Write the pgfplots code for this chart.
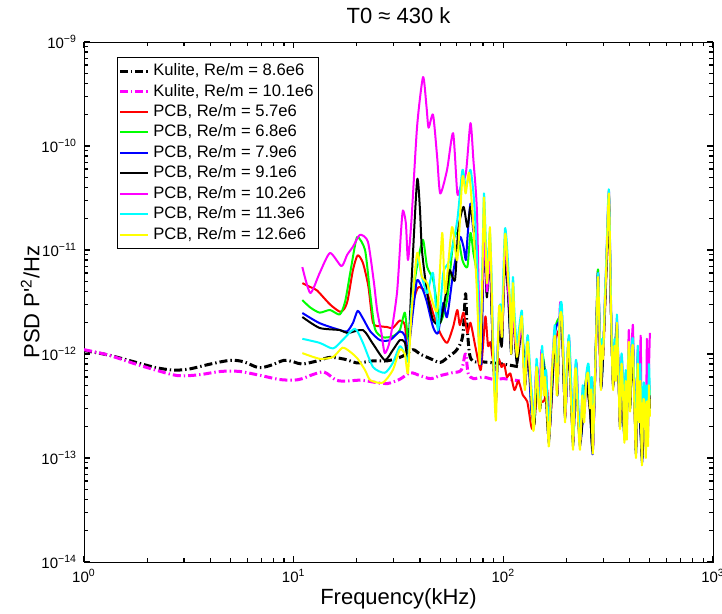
\documentclass[border=0pt]{standalone}
\usepackage{pgfplots}
\pgfplotsset{compat=1.18}
\usepackage{fontspec}
\setmainfont{Liberation Sans}
\definecolor{mred}{rgb}{1,0,0}
\definecolor{mgreen}{rgb}{0,1,0}
\definecolor{mblue}{rgb}{0,0,1}
\definecolor{mmag}{rgb}{1,0,1}
\definecolor{mcyan}{rgb}{0,1,1}
\definecolor{myellow}{rgb}{1,1,0}
\begin{document}
\begin{tikzpicture}
\begin{axis}[
  at={(0,0)}, anchor=south west,
  scale only axis, width=314.5pt, height=260pt,
  xmode=log, ymode=log,
  xmin=1, xmax=1000, ymin=1e-14, ymax=1e-9,
  xtick={1,10,100,1000},
  xticklabels={10\textsuperscript{0},10\textsuperscript{1},10\textsuperscript{2},10\textsuperscript{3}},
  minor xtick={2,3,4,5,6,7,8,9,20,30,40,50,60,70,80,90,200,300,400,500,600,700,800,900},
  ytick={1e-14,1e-13,1e-12,1e-11,1e-10,1e-9},
  yticklabels={10\textsuperscript{−14},10\textsuperscript{−13},10\textsuperscript{−12},10\textsuperscript{−11},10\textsuperscript{−10},10\textsuperscript{−9}},
  minor ytick={2e-14,3e-14,4e-14,5e-14,6e-14,7e-14,8e-14,9e-14,
    2e-13,3e-13,4e-13,5e-13,6e-13,7e-13,8e-13,9e-13,
    2e-12,3e-12,4e-12,5e-12,6e-12,7e-12,8e-12,9e-12,
    2e-11,3e-11,4e-11,5e-11,6e-11,7e-11,8e-11,9e-11,
    2e-10,3e-10,4e-10,5e-10,6e-10,7e-10,8e-10,9e-10},
  tick label style={font=\fontsize{7.5}{9}\selectfont},
  axis line style={line width=0.5pt},
  tick style={black, line width=0.6pt},
  major tick length=3.2pt, minor tick length=2pt,
  title={T0 ≈ 430 k},
  title style={font=\fontsize{11}{13}\selectfont, yshift=-0.5pt},
  xlabel={Frequency(kHz)},
  ylabel={PSD P\textquotesingle\textsuperscript{2}/Hz},
  label style={font=\fontsize{11}{13}\selectfont},
  xlabel style={yshift=4pt},
  ylabel shift=-6pt,
  legend style={at={(0.0525,0.971)}, anchor=north west, font=\fontsize{8.3}{10}\selectfont,
    draw=black, line width=0.5pt, fill=white, inner xsep=0.5pt, inner ysep=1pt, row sep=-1.3pt},
  legend cell align=left,
  legend image code/.code={\draw[#1] (0cm,0cm) -- (0.49cm,0cm);},
  every axis plot/.append style={line join=round},
]
% Kulite 8.6e6
\addplot[black, line width=1.5pt, dash pattern=on 4pt off 1.5pt on 0.7pt off 1.5pt, smooth, tension=0.5] table {
1.0 1.08e-12
1.3 0.98e-12
1.7 0.85e-12
2.2 0.74e-12
2.7 0.70e-12
3.2 0.72e-12
4.0 0.80e-12
5.0 0.87e-12
5.8 0.84e-12
6.8 0.74e-12
7.8 0.78e-12
9.0 0.87e-12
10 0.84e-12
11 0.80e-12
13 0.86e-12
15 0.93e-12
18 0.88e-12
20 0.82e-12
24 0.86e-12
28 0.86e-12
33 0.95e-12
37 1.1e-12
40 1.0e-12
45 0.9e-12
50 0.83e-12
55 0.95e-12
60 1.1e-12
64 1.5e-12
66 3.8e-12
67 2.0e-12
69 1.0e-12
72 0.85e-12
80 0.84e-12
90 0.82e-12
100 0.80e-12
120 0.75e-12
};
\addlegendentry{Kulite, Re/m = 8.6e6}
% Kulite 10.1e6
\addplot[mmag, line width=1.5pt, dash pattern=on 4pt off 1.5pt on 0.7pt off 1.5pt, smooth, tension=0.5] table {
1.0 1.1e-12
1.3 0.98e-12
1.7 0.82e-12
2.2 0.70e-12
2.8 0.62e-12
3.5 0.63e-12
4.5 0.68e-12
5.5 0.68e-12
7.0 0.62e-12
8.5 0.57e-12
10 0.56e-12
11 0.58e-12
12.5 0.64e-12
14 0.67e-12
16 0.56e-12
18 0.55e-12
21 0.56e-12
25 0.53e-12
28 0.52e-12
32 0.57e-12
36 0.66e-12
40 0.62e-12
45 0.58e-12
50 0.62e-12
57 0.66e-12
63 0.70e-12
66 1.0e-12
68 0.65e-12
72 0.58e-12
80 0.60e-12
90 0.57e-12
100 0.58e-12
120 0.55e-12
};
\addlegendentry{Kulite, Re/m = 10.1e6}
% PCB 5.7e6 red
\addplot[mred, line width=1pt, smooth, tension=0.4] table {
11.0 4.8e-12
12.0 4.4e-12
12.9 4.1e-12
14.9 3.0e-12
16.6 2.55e-12
17.4 2.7e-12
18.1 3.3e-12
19.2 6.5e-12
20.2 8.9e-12
21.4 7.5e-12
22.7 4.5e-12
23.9 2.0e-12
25.8 1.85e-12
27.8 1.82e-12
29.7 1.78e-12
32.1 2.1e-12
33.9 1.9e-12
35.1 1.02e-12
37.1 3.0e-12
38.8 4.2e-12
40.0 4.4e-12
43.3 3.86e-12
46.2 2.48e-12
50.0 1.59e-12
53.9 1.28e-12
57.6 1.82e-12
60.3 2.65e-12
62.0 1.9e-12
64.6 2.5e-12
67.4 1.59e-12
69.7 2.0e-12
73.6 1.17e-12
77.9 7.0e-13
80.0 1.2e-12
82.2 2.3e-12
84.5 1.2e-12
86.8 1.3e-12
89.0 9.0e-13
92.0 7.0e-13
95.0 9.0e-13
98.0 7.5e-13
101 8.0e-13
104 6.0e-13
108 6.5e-13
113 4.5e-13
118 5.5e-13
124 4.0e-13
130 3.5e-13
136 2.0e-13
140 2.0e-13
146 5.0e-13
152 3.5e-13
157 3.6e-13
162 4.5e-13
167 2.0e-13
176 1.2e-12
186 1.8e-12
190 2.0e-12
197 3.0e-13
205 1.1e-12
215 1.5e-13
222 6.0e-13
232 1.5e-13
248 5.0e-13
259 3.0e-13
267 1.3e-13
277 1.5e-12
283 6.4e-12
290 6.0e-13
299 9.0e-13
308 4.0e-12
312 8.5e-12
316 1.8e-11
319 2.6e-11
322 1.0e-11
326 2.5e-12
334 5.5e-13
348 1.7e-12
360 2.3e-13
366 7.0e-13
378 1.8e-13
393 6.0e-13
402 3.2e-13
415 1.1e-12
429 1.3e-13
438 7.0e-13
458 1.1e-13
473 3.0e-13
484 3.0e-13
495 4.5e-13
500 3.5e-13
};
\addlegendentry{PCB, Re/m = 5.7e6}
% PCB 6.8e6 green
\addplot[mgreen, line width=1pt, smooth, tension=0.4] table {
11.0 3.3e-12
12.0 2.8e-12
13.3 2.5e-12
14.9 2.65e-12
16.6 2.4e-12
17.6 3.2e-12
18.6 6.0e-12
19.6 1.1e-11
20.2 1.34e-11
21.9 1.0e-11
23.1 4.0e-12
24.4 1.75e-12
26.6 1.45e-12
29.7 1.48e-12
32.1 1.7e-12
33.9 2.5e-12
35.1 1.4e-12
36.0 2.0e-12
37.1 3.9e-12
39.2 8.0e-12
41.4 1.25e-11
43.3 6.9e-12
46.2 5.2e-12
48.3 3.0e-12
50.0 2.0e-12
53.9 3.3e-12
57.6 1.17e-11
60.3 1.46e-11
63.8 8.0e-12
67.4 6.9e-12
69.7 1.46e-11
72.0 9.35e-12
74.8 5.5e-12
77.3 9.0e-13
80.8 1.4e-11
82.2 8.0e-12
83.5 4.0e-12
86.3 9.0e-12
89.2 1.1e-12
92.2 4.0e-13
95.3 2.0e-12
98.4 1.3e-12
101.8 9.0e-12
105.5 4.0e-12
109 1.1e-12
111.1 3.0e-12
116.1 9.0e-13
122.6 2.0e-12
126.8 5.5e-13
131 1.1e-12
136 3.0e-13
140 2.2e-13
145 7.5e-13
150 3.0e-13
153 1.0e-12
160 5.5e-13
165 1.5e-13
176 1.6e-12
186 2.3e-12
190 2.6e-12
197 2.6e-13
205 1.4e-12
215 1.4e-13
222 7.5e-13
232 1.4e-13
248 5.8e-13
259 3.2e-13
267 1.2e-13
277 1.6e-12
283 6.5e-12
292 5.0e-13
299 1.0e-12
308 4.8e-12
312 1.0e-11
316 2.3e-11
319 3.3e-11
322 1.3e-11
326 2.6e-12
334 5.0e-13
348 1.9e-12
360 2.1e-13
366 8.0e-13
378 1.6e-13
393 6.5e-13
402 3.0e-13
415 1.2e-12
429 1.2e-13
438 8.5e-13
458 1.0e-13
473 3.3e-13
484 3.5e-13
495 5.0e-13
500 3.0e-13
};
\addlegendentry{PCB, Re/m = 6.8e6}
% PCB 7.9e6 blue
\addplot[mblue, line width=1pt, smooth, tension=0.4] table {
11.0 2.48e-12
13.3 1.98e-12
16.6 1.7e-12
18.0 1.65e-12
19.2 2.0e-12
20.2 2.6e-12
21.4 2.2e-12
23.2 1.65e-12
25.8 1.36e-12
28.8 1.36e-12
32.1 1.65e-12
33.9 1.5e-12
35.1 1.02e-12
37.1 2.6e-12
38.8 5.15e-12
41.4 4.1e-12
43.3 3.1e-12
46.2 1.82e-12
48.8 1.59e-12
51.7 3.1e-12
53.9 2.27e-12
57.6 6.0e-12
60.3 1.0e-11
62.4 1.34e-11
64.6 1.07e-11
66.3 8.0e-12
67.4 1.3e-11
69.7 2.8e-11
72.0 1.5e-11
73.6 1.46e-11
76.0 3.86e-12
78.5 8.0e-13
80.8 1.3e-11
82.2 7.5e-12
83.5 3.8e-12
86.3 8.5e-12
89.2 1.0e-12
92.2 3.8e-13
95.3 1.9e-12
98.4 1.25e-12
101.8 8.5e-12
105.5 3.8e-12
109 1.0e-12
111.1 2.8e-12
116.1 8.5e-13
122.6 1.9e-12
126.8 5.0e-13
131 1.05e-12
136 2.8e-13
140 2.4e-13
144 7.2e-13
150 3.2e-13
153 9.5e-13
160 5.0e-13
165 1.4e-13
176 1.5e-12
186 2.1e-12
190 2.4e-12
197 2.4e-13
205 1.3e-12
215 1.3e-13
222 7.0e-13
232 1.3e-13
248 5.5e-13
259 3.0e-13
267 1.1e-13
277 1.4e-12
283 6.0e-12
292 4.8e-13
299 1.0e-12
308 4.8e-12
312 1.05e-11
316 2.4e-11
319 3.4e-11
322 1.3e-11
326 2.7e-12
334 4.8e-13
348 2.0e-12
360 2.0e-13
366 8.5e-13
378 1.5e-13
393 6.5e-13
402 3.0e-13
415 1.3e-12
429 1.1e-13
438 9.0e-13
458 9.0e-14
473 3.2e-13
484 3.8e-13
495 5.5e-13
500 3.0e-13
};
\addlegendentry{PCB, Re/m = 7.9e6}
% PCB 9.1e6 black
\addplot[black, line width=1pt, smooth, tension=0.4] table {
11.0 2.27e-12
13.3 1.78e-12
16.6 1.70e-12
18.1 1.59e-12
21.4 1.70e-12
23.9 1.25e-12
27.2 8.75e-13
29.7 1.09e-12
32.1 1.36e-12
33.9 1.3e-12
35.1 9.35e-13
36.5 5.0e-12
38.8 4.7e-11
40.0 2.5e-11
40.9 1.0e-11
43.3 3.86e-12
46.2 2.12e-12
50.0 2.0e-12
53.9 4.4e-12
55.5 6.4e-12
58.8 5.15e-12
61.0 1.6e-11
64.6 2.6e-11
67.4 1.66e-11
69.7 2.6e-11
72.0 1.7e-11
73.6 1.4e-11
75.5 4.8e-12
77.9 1.02e-12
80.8 1.2e-11
82.2 7.0e-12
83.5 3.5e-12
86.3 8.0e-12
89.2 1.0e-12
92.2 3.5e-13
95.3 1.8e-12
98.4 1.2e-12
101.8 8.0e-12
105.5 3.5e-12
109 1.0e-12
111.1 2.5e-12
116.1 8.0e-13
122.6 1.8e-12
126.8 5.0e-13
131 1.0e-12
138.4 2.5e-13
141 2.2e-13
145 7.0e-13
150 3.0e-13
153 9.0e-13
158 5.5e-13
165 1.5e-13
176 1.4e-12
181 4.0e-13
186 2.0e-12
190 2.2e-12
197 2.5e-13
205 1.2e-12
215 1.4e-13
222 6.5e-13
232 1.4e-13
248 5.0e-13
259 2.8e-13
267 1.2e-13
277 1.3e-12
283 5.0e-12
292 5.0e-13
299 1.0e-12
308 4.5e-12
312 1.0e-11
316 2.2e-11
319 3.2e-11
322 1.2e-11
326 2.5e-12
334 5.0e-13
348 1.8e-12
360 2.0e-13
366 7.5e-13
378 1.6e-13
393 6.0e-13
402 3.0e-13
415 1.1e-12
429 1.1e-13
438 7.5e-13
458 1.0e-13
473 3.0e-13
484 3.0e-13
495 4.5e-13
500 3.0e-13
};
\addlegendentry{PCB, Re/m = 9.1e6}
% PCB 10.2e6 magenta
\addplot[mmag, line width=1pt, smooth, tension=0.4] table {
11.0 6.85e-12
12.0 3.86e-12
13.3 6.0e-12
14.9 9.35e-12
16.9 7.0e-12
18.0 9.0e-12
19.2 1.08e-11
20.7 1.40e-11
22.6 1.2e-11
24.1 5.0e-12
25.0 2.65e-12
26.2 1.6e-12
27.2 1.02e-12
28.8 1.36e-12
31.1 3.86e-12
32.5 1.5e-11
33.2 2.4e-11
34.3 1.8e-11
35.1 8.0e-12
36.5 2.0e-11
38.8 1.55e-10
41.4 4.6e-10
43.0 2.4e-10
44.0 1.5e-10
46.2 2.0e-10
48.3 8.0e-11
50.0 3.5e-11
53.9 5.9e-11
57.6 1.33e-10
60.3 3.53e-11
62.4 4.0e-11
66.3 5.5e-11
69.7 1.66e-10
72.0 7.3e-11
74.8 2.4e-11
77.3 1.5e-12
79.5 4.0e-12
80.8 1.6e-11
82.2 8.0e-12
83.5 4.0e-12
85.0 6.0e-12
86.3 1.2e-11
87.8 4.0e-12
89.2 1.2e-12
90.7 6.0e-13
92.2 3.5e-13
93.7 1.0e-12
95.3 2.0e-12
96.8 2.2e-12
98.4 1.5e-12
100 3.5e-12
101.8 1.2e-11
103.5 9.0e-12
105.5 4.0e-12
107.5 2.5e-12
109 1.2e-12
111.1 3.8e-12
113 1.6e-12
116.1 1.0e-12
119 1.3e-12
122.6 2.0e-12
124.5 9.0e-13
126.8 5.0e-13
129 9.0e-13
131 1.1e-12
135 5.5e-13
138.4 2.5e-13
140 2.5e-13
144 8.0e-13
148 3.5e-13
152 1.1e-12
156 4.5e-13
160 6.5e-13
165 1.6e-13
170 6.5e-13
176 1.7e-12
181 4.5e-13
186 2.9e-12
190 2.6e-12
194 8.0e-13
198 2.6e-13
202 9.0e-13
206 1.4e-12
211 4.5e-13
216 1.5e-13
220 6.5e-13
224 8.0e-13
228 2.8e-13
233 1.5e-13
239 4.5e-13
244 2.7e-13
249 6.0e-13
255 7.5e-13
260 3.2e-13
264 5.5e-13
268 1.3e-13
273 4.5e-13
278 1.6e-12
283 5.8e-12
288 1.6e-12
292 5.0e-13
296 1.3e-12
300 1.1e-12
304 2.8e-12
308 5.5e-12
312 1.2e-11
316 2.8e-11
319 3.7e-11
322 1.5e-11
326 3.2e-12
330 1.0e-12
334 5.0e-13
339 1.3e-12
344 6.5e-13
348 2.2e-12
354 7.5e-13
360 2.2e-13
366 9.5e-13
372 5.5e-13
378 1.7e-13
383 6.5e-13
388 1.8e-13
393 7.5e-13
397 1.7e-12
402 3.5e-13
408 1.0e-12
415 1.9e-12
421 4.5e-13
429 1.3e-13
434 5.5e-13
438 1.1e-12
444 2.7e-13
452 1.5e-12
458 1.1e-13
465 4.5e-13
473 3.8e-13
478 1.3e-13
484 1.4e-12
490 1.8e-13
495 7.0e-13
500 1.6e-12
};
\addlegendentry{PCB, Re/m = 10.2e6}
% PCB 11.3e6 cyan
\addplot[mcyan, line width=1pt, smooth, tension=0.4] table {
11.0 1.4e-12
13.3 1.28e-12
15.4 1.13e-12
17.1 1.36e-12
19.6 1.75e-12
21.4 1.28e-12
23.9 7.5e-13
27.2 6.6e-13
29.7 8.2e-13
32.1 1.19e-12
33.9 1.0e-12
35.1 8.75e-13
36.5 3.0e-12
38.8 8.0e-12
40.9 5.5e-12
43.3 3.86e-12
46.2 6.0e-12
48.8 1.7e-12
51.7 6.0e-12
55.5 8.0e-12
60.3 1.94e-11
63.8 5.88e-11
66.3 4.0e-11
69.7 5.9e-11
72.5 3.0e-11
75.0 8.0e-12
77.3 1.0e-12
79.5 8.0e-12
80.8 3.5e-11
82.2 1.5e-11
83.5 6.0e-12
85.0 1.0e-11
86.3 1.5e-11
87.8 6.0e-12
89.2 1.5e-12
90.7 6.0e-13
92.2 4.0e-13
93.7 1.0e-12
95.3 2.5e-12
96.8 3.0e-12
98.4 2.0e-12
100 6.0e-12
101.8 1.6e-11
103.5 1.3e-11
105.5 7.0e-12
107.5 3.0e-12
109 1.5e-12
111.1 5.5e-12
113 2.5e-12
116.1 1.2e-12
119 1.8e-12
122.6 2.6e-12
124.5 1.0e-12
126.8 6.0e-13
129 1.2e-12
131 1.5e-12
135 6.0e-13
138.4 3.0e-13
141 2.5e-13
144 9.0e-13
148 4.0e-13
151 3.5e-13
153 1.2e-12
157 5.0e-13
160 7.0e-13
163 3.0e-13
166 1.8e-13
171 7.0e-13
176 1.9e-12
181 5.0e-13
186 2.6e-12
190 3.0e-12
194 9.0e-13
198 3.0e-13
202 1.0e-12
206 1.5e-12
211 5.0e-13
216 1.6e-13
220 7.0e-13
223 8.5e-13
228 3.0e-13
233 1.6e-13
239 5.0e-13
244 3.0e-13
249 6.5e-13
255 8.0e-13
260 3.5e-13
264 6.0e-13
268 1.5e-13
273 5.0e-13
278 1.8e-12
283 6.0e-12
288 1.7e-12
292 5.5e-13
296 1.4e-12
300 1.2e-12
304 3.0e-12
308 6.0e-12
312 1.3e-11
316 3.0e-11
319 3.8e-11
322 1.6e-11
326 3.5e-12
330 1.1e-12
334 5.5e-13
339 1.4e-12
344 7.0e-13
348 2.4e-12
354 8.0e-13
360 2.5e-13
366 1.0e-12
372 6.0e-13
378 2.0e-13
383 7.0e-13
388 2.0e-13
393 8.0e-13
397 1.1e-12
402 4.0e-13
408 1.1e-12
415 1.4e-12
421 5.0e-13
429 1.5e-13
434 6.0e-13
438 1.2e-12
444 3.0e-13
450 8.0e-13
458 1.2e-13
465 5.0e-13
473 4.5e-13
478 1.5e-13
484 5.0e-13
490 2.0e-13
495 8.0e-13
500 4.0e-13
};
\addlegendentry{PCB, Re/m = 11.3e6}
% PCB 12.6e6 yellow
\addplot[myellow, line width=1pt, smooth, tension=0.4] table {
11.0 1.02e-12
13.3 9.0e-13
15.4 9.35e-13
17.1 1.15e-12
18.6 1.05e-12
20.2 9.0e-13
21.9 7.0e-13
23.2 5.6e-13
26.6 5.3e-13
29.7 7.0e-13
32.1 1.1e-12
33.9 1.0e-12
35.1 6.6e-13
36.5 2.5e-12
38.8 9.35e-12
40.9 5.5e-12
43.3 4.8e-12
48.3 2.6e-12
51.1 1.46e-11
52.8 3.86e-12
56.9 1.66e-11
60.3 8.0e-12
63.8 5.0e-11
66.1 3.5e-11
68.7 5.5e-11
72.0 1.66e-11
74.8 4.0e-12
77.3 8.0e-13
79.5 6.0e-12
80.8 3.2e-11
82.2 1.2e-11
83.5 4.8e-12
85.0 8.0e-12
86.3 1.66e-11
87.8 5.0e-12
89.2 1.1e-12
90.7 4.0e-13
92.2 2.3e-13
93.7 8.0e-13
95.3 2.8e-12
96.8 2.5e-12
98.4 1.46e-12
100 4.0e-12
101.8 1.4e-11
103.5 1.1e-11
105.5 5.0e-12
107.5 3.3e-12
109 1.0e-12
111.1 4.8e-12
113 2.0e-12
116.1 9.4e-13
119 1.5e-12
122.6 2.3e-12
124.5 8.0e-13
126.8 4.5e-13
129 1.0e-12
131 1.3e-12
135 5.0e-13
138.4 2.0e-13
140 2.0e-13
144 7.5e-13
147 3.5e-13
150 2.9e-13
153 1.0e-12
156 4.0e-13
158 6.0e-13
162 2.5e-13
165 1.3e-13
170 6.0e-13
176 1.5e-12
180 4.0e-13
186 2.2e-12
190 2.3e-12
194 7.0e-13
197 2.2e-13
201 8.0e-13
205 1.3e-12
210 4.0e-13
215 1.2e-13
219 6.0e-13
222 7.0e-13
227 2.5e-13
232 1.2e-13
238 4.0e-13
243 2.2e-13
248 5.5e-13
254 6.5e-13
259 3.0e-13
263 4.5e-13
267 1.1e-13
272 4.0e-13
277 1.4e-12
283 5.5e-12
288 1.4e-12
292 4.5e-13
296 1.2e-12
299 9.0e-13
304 2.5e-12
308 5.0e-12
312 1.1e-11
316 2.5e-11
319 3.5e-11
322 1.4e-11
326 2.8e-12
330 9.0e-13
334 4.5e-13
339 1.2e-12
344 5.5e-13
348 2.0e-12
354 6.5e-13
360 1.9e-13
366 8.0e-13
372 4.5e-13
378 1.4e-13
383 5.5e-13
388 1.5e-13
393 6.5e-13
397 1.3e-12
402 2.8e-13
408 9.0e-13
415 1.2e-12
421 3.5e-13
429 1.0e-13
434 4.5e-13
438 8.0e-13
444 2.2e-13
450 5.5e-13
458 8.5e-14
465 3.5e-13
473 3.0e-13
478 1.0e-13
484 3.5e-13
490 1.3e-13
495 5.0e-13
500 2.5e-13
};
\addlegendentry{PCB, Re/m = 12.6e6}
\end{axis}
\pgfresetboundingbox
\path[use as bounding box] (-42pt,-26pt) rectangle (319pt,281pt);
\end{tikzpicture}
\end{document}
